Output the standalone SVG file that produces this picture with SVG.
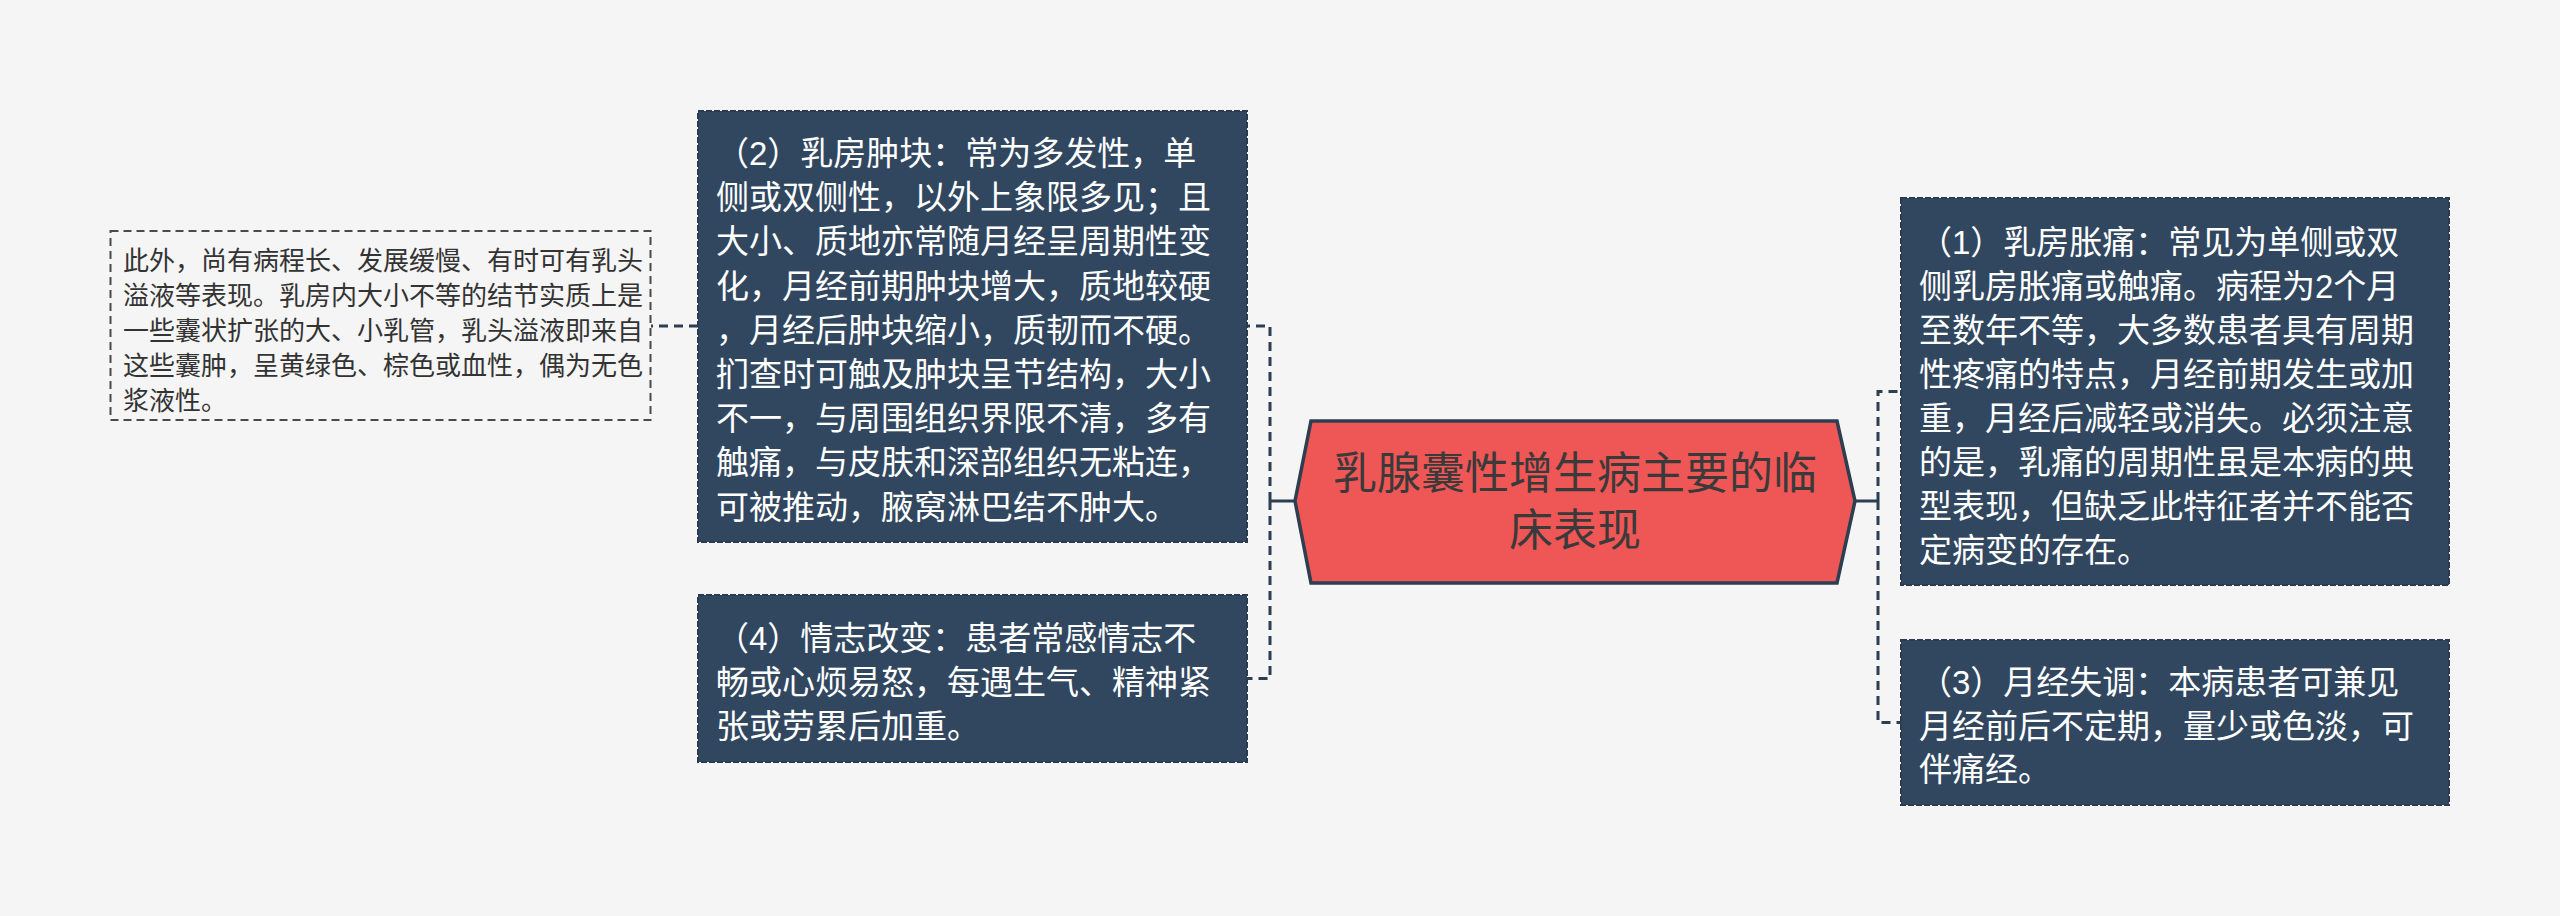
<svg xmlns="http://www.w3.org/2000/svg" width="2560" height="916" viewBox="0 0 2560 916">
<style>
.bg{fill:#f5f5f5}
.box{fill:#31475f;stroke:#2a3b4f;stroke-width:2;stroke-dasharray:6 2}
.plain{fill:none;stroke:#4a4a4a;stroke-width:2;stroke-dasharray:8 5}
.t{font-family:"Liberation Sans","Noto Sans CJK SC",sans-serif;fill:#ffffff;font-size:33px}
.ts{font-family:"Liberation Sans","Noto Sans CJK SC",sans-serif;fill:#333333;font-size:26px}
.tc{font-family:"Liberation Sans","Noto Sans CJK SC",sans-serif;fill:#3a3a3a;font-size:44px;text-anchor:middle}
.dash{fill:none;stroke:#2c3e50;stroke-width:3;stroke-dasharray:9 6}
.solid{fill:none;stroke:#2c3e50;stroke-width:3}
</style>
<rect class="bg" x="0" y="0" width="2560" height="916"/>
<g id="connectors">
<line class="solid" x1="1270" y1="501" x2="1296" y2="501"/>
<path class="dash" d="M1270,501 V326 H1247"/>
<path class="dash" d="M1270,501 V678.5 H1247"/>
<line class="solid" x1="1854" y1="501" x2="1878" y2="501"/>
<path class="dash" d="M1878,501 V391.5 H1901"/>
<path class="dash" d="M1878,501 V722.5 H1901"/>
<path class="dash" d="M698,326 H651"/>
</g>
<g id="center">
<polygon points="1295,501 1311,421 1837,421 1855,501 1837,583 1311,583" fill="#ef5656" stroke="#2c3e50" stroke-width="3.5"/>
<text class="tc" x="1575" y="489">乳腺囊性增生病主要的临</text>
<text class="tc" x="1575" y="546">床表现</text>
</g>
<g id="node2">
<rect class="box" x="698" y="111" width="549" height="431"/>
<text class="t" x="716" y="165">（2）乳房肿块：常为多发性，单</text>
<text class="t" x="716" y="209.2">侧或双侧性，以外上象限多见；且</text>
<text class="t" x="716" y="253.4">大小、质地亦常随月经呈周期性变</text>
<text class="t" x="716" y="297.6">化，月经前期肿块增大，质地较硬</text>
<text class="t" x="716" y="341.8">，月经后肿块缩小，质韧而不硬。</text>
<text class="t" x="716" y="386">扪查时可触及肿块呈节结构，大小</text>
<text class="t" x="716" y="430.2">不一，与周围组织界限不清，多有</text>
<text class="t" x="716" y="474.4">触痛，与皮肤和深部组织无粘连，</text>
<text class="t" x="716" y="518.6">可被推动，腋窝淋巴结不肿大。</text>
</g>
<g id="node2note">
<rect class="plain" x="110.5" y="231" width="540" height="189"/>
<text class="ts" x="123" y="269.5">此外，尚有病程长、发展缓慢、有时可有乳头</text>
<text class="ts" x="123" y="304.5">溢液等表现。乳房内大小不等的结节实质上是</text>
<text class="ts" x="123" y="339.5">一些囊状扩张的大、小乳管，乳头溢液即来自</text>
<text class="ts" x="123" y="374.5">这些囊肿，呈黄绿色、棕色或血性，偶为无色</text>
<text class="ts" x="123" y="409.5">浆液性。</text>
</g>
<g id="node4">
<rect class="box" x="698" y="595" width="549" height="167"/>
<text class="t" x="716" y="650">（4）情志改变：患者常感情志不</text>
<text class="t" x="716" y="694.2">畅或心烦易怒，每遇生气、精神紧</text>
<text class="t" x="716" y="738.4">张或劳累后加重。</text>
</g>
<g id="node1">
<rect class="box" x="1901" y="198" width="548" height="387"/>
<text class="t" x="1919" y="253.5">（1）乳房胀痛：常见为单侧或双</text>
<text class="t" x="1919" y="297.5">侧乳房胀痛或触痛。病程为2个月</text>
<text class="t" x="1919" y="341.5">至数年不等，大多数患者具有周期</text>
<text class="t" x="1919" y="385.5">性疼痛的特点，月经前期发生或加</text>
<text class="t" x="1919" y="429.5">重，月经后减轻或消失。必须注意</text>
<text class="t" x="1919" y="473.5">的是，乳痛的周期性虽是本病的典</text>
<text class="t" x="1919" y="517.5">型表现，但缺乏此特征者并不能否</text>
<text class="t" x="1919" y="561.5">定病变的存在。</text>
</g>
<g id="node3">
<rect class="box" x="1901" y="640" width="548" height="165"/>
<text class="t" x="1919" y="694">（3）月经失调：本病患者可兼见</text>
<text class="t" x="1919" y="737.5">月经前后不定期，量少或色淡，可</text>
<text class="t" x="1919" y="781">伴痛经。</text>
</g>
</svg>
